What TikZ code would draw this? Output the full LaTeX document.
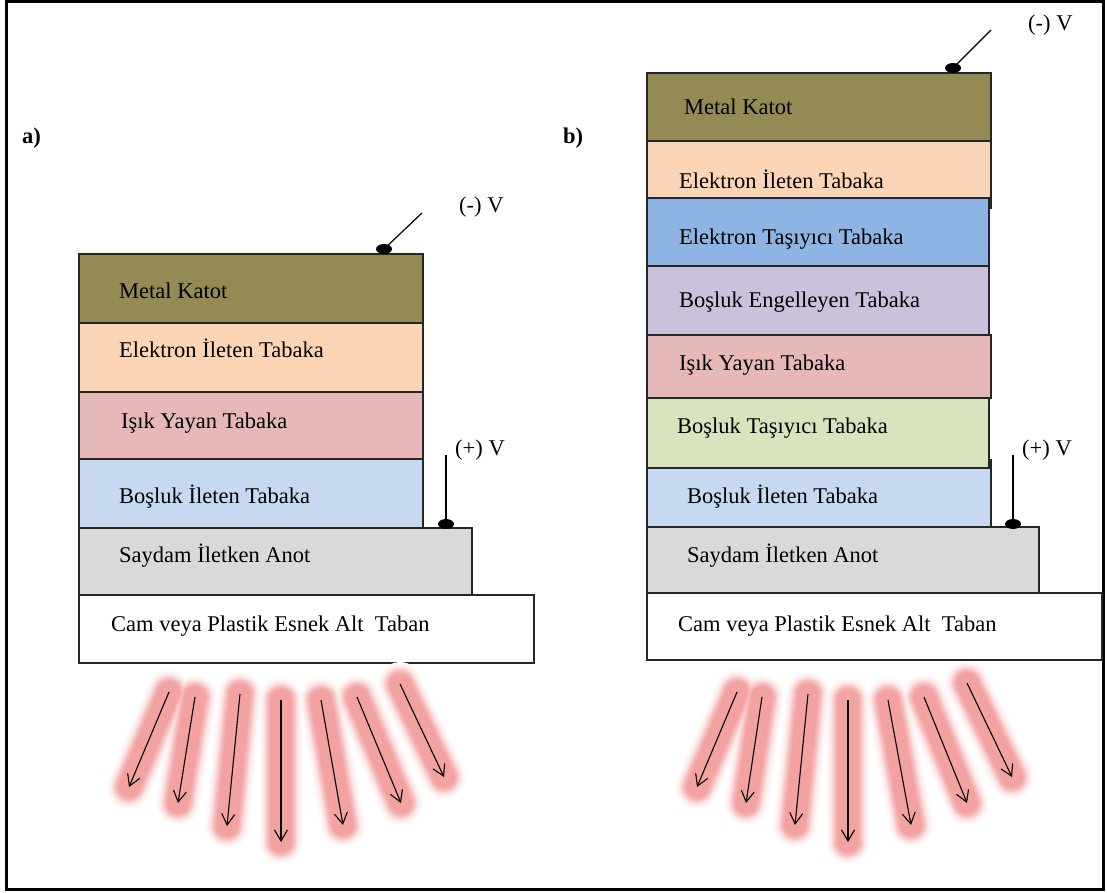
\documentclass[tikz,border=0pt]{standalone}
\usepackage{fontspec}
\setmainfont{Liberation Serif}
\usetikzlibrary{arrows.meta,shapes.geometric}
\definecolor{cKatot}{HTML}{948A54}
\definecolor{cPeach}{HTML}{FBD5B5}
\definecolor{cPink}{HTML}{E6B9B8}
\definecolor{cLBlue}{HTML}{C6D9F1}
\definecolor{cGray}{HTML}{D9D9D9}
\definecolor{cMBlue}{HTML}{8EB4E3}
\definecolor{cLav}{HTML}{CCC1DA}
\definecolor{cGreen}{HTML}{D7E4BD}
\definecolor{cGlow}{RGB}{232,70,70}
\tikzset{
  box/.style={draw=black!85, line width=1.3pt},
  lbl/.style={anchor=base west, inner sep=0pt, font=\fontsize{22.5}{27}\selectfont},
  dotn/.style={ellipse, fill=black, minimum width=16pt, minimum height=10pt, inner sep=0pt},
  lead/.style={line width=1.2pt, black},
  ray/.style={line width=1.1pt, black, -{Straight Barb[length=11pt,width=13pt,line width=1.1pt]}},
  glowline/.style={line cap=round},
}
\begin{document}
\begin{tikzpicture}[x=1pt,y=-1pt]
\useasboundingbox (0,0) rectangle (1107,892);
\fill[white] (0,0) rectangle (1107,892);
% frame
\draw[line width=3pt] (6.5,1) rectangle (1103.5,889);

% ---------------- panel a ----------------
\node[lbl, font=\fontsize{22.5}{27}\selectfont\bfseries] (la) at (22,143) {a)};
\draw[box, fill=cKatot] (79,254) rectangle (423,323);
\draw[box, fill=cPeach] (79,323) rectangle (423,392);
\draw[box, fill=cPink] (79,392) rectangle (423,459);
\draw[box, fill=cLBlue] (79,459) rectangle (423,528);
\draw[box, fill=cGray] (79,528) rectangle (472,595);
\draw[box, fill=white] (79,595) rectangle (534,663);
\node[lbl] (a1) at (119,298) {Metal Katot};
\node[lbl] (a2) at (119,357) {Elektron İleten Tabaka};
\node[lbl] (a3) at (121,428) {Işık Yayan Tabaka};
\node[lbl] (a4) at (119,503) {Boşluk İleten Tabaka};
\node[lbl] (a5) at (119,562) {Saydam İletken Anot};
\node[lbl] (a6) at (111,631) {Cam veya Plastik Esnek Alt\ \ Taban};
% leads a
\node[dotn] (dma) at (384,249) {};
\coordinate (tma) at (422,213);
\draw[lead] (dma.center) -- (tma);
\node[lbl] (vma) at (459,212) {(-) V};
\node[dotn] (dpa) at (446,524) {};
\coordinate (tpa) at (446,455);
\draw[lead] (dpa.center) -- (tpa);
\node[lbl] (vpa) at (455,455) {(+) V};

% ---------------- panel b ----------------
\node[lbl, font=\fontsize{22.5}{27}\selectfont\bfseries] (lb) at (563,143) {b)};
\draw[box, fill=cKatot] (647,73) rectangle (991,141);
\draw[box, fill=cPeach] (647,141) rectangle (991,208);
\draw[box, fill=cMBlue] (647,198) rectangle (989,266);
\draw[box, fill=cLav] (647,266) rectangle (989,335);
\draw[box, fill=cPink] (647,335) rectangle (991,398);
\draw[box, fill=cLBlue] (647,460) rectangle (991,528);
\draw[box, fill=cGreen] (647,398) rectangle (989,468);
\draw[box, fill=cGray] (647,527) rectangle (1039,593);
\draw[box, fill=white] (647,593) rectangle (1102,660);
\node[lbl] (b1) at (684,114) {Metal Katot};
\node[lbl] (b2) at (679,188) {Elektron İleten Tabaka};
\node[lbl] (b3) at (679,244) {Elektron Taşıyıcı Tabaka};
\node[lbl] (b4) at (679,307) {Boşluk Engelleyen Tabaka};
\node[lbl] (b5) at (679,370) {Işık Yayan Tabaka};
\node[lbl] (b6) at (677,433) {Boşluk Taşıyıcı Tabaka};
\node[lbl] (b7) at (687,503) {Boşluk İleten Tabaka};
\node[lbl] (b8) at (687,562) {Saydam İletken Anot};
\node[lbl] (b9) at (678,631) {Cam veya Plastik Esnek Alt\ \ Taban};
% leads b
\node[dotn] (dmb) at (953,68) {};
\coordinate (tmb) at (991,30);
\draw[lead] (dmb.center) -- (tmb);
\node[lbl] (vmb) at (1028,30) {(-) V};
\node[dotn] (dpb) at (1013,524) {};
\coordinate (tpb) at (1013,455);
\draw[lead] (dpb.center) -- (tpb);
\node[lbl] (vpb) at (1022,455) {(+) V};

% ---------------- light rays ----------------
\coordinate (ra1s) at (169,692); \coordinate (ra1e) at (129,787);
\coordinate (ra2s) at (195,697); \coordinate (ra2e) at (178,803);
\coordinate (ra3s) at (240,694); \coordinate (ra3e) at (227,826);
\coordinate (ra4s) at (281,700); \coordinate (ra4e) at (281,842);
\coordinate (ra5s) at (321,700); \coordinate (ra5e) at (343,825);
\coordinate (ra6s) at (357,697); \coordinate (ra6e) at (401,803);
\coordinate (ra7s) at (400,684); \coordinate (ra7e) at (444,777);
\coordinate (rb1s) at (737,692); \coordinate (rb1e) at (697,787);
\coordinate (rb2s) at (762,697); \coordinate (rb2e) at (746,803);
\coordinate (rb3s) at (808,694); \coordinate (rb3e) at (795,825);
\coordinate (rb4s) at (848,700); \coordinate (rb4e) at (848,842);
\coordinate (rb5s) at (888,700); \coordinate (rb5e) at (911,825);
\coordinate (rb6s) at (924,697); \coordinate (rb6e) at (967,803);
\coordinate (rb7s) at (967,683); \coordinate (rb7e) at (1012,777);
\foreach \w/\p in {44/2.5,42/4,40/6,38/9,36/12,34/16,32/22,30/28,28/34,26/39,24/44,22/48,20/50}{%
  \foreach \r in {ra1,ra2,ra3,ra4,ra5,ra6,ra7,rb1,rb2,rb3,rb4,rb5,rb6,rb7}{%
    \draw[glowline, line width=\w pt, color=cGlow!\p] (\r s) -- (\r e);}}
\foreach \r in {ra1,ra2,ra3,ra4,ra5,ra6,ra7,rb1,rb2,rb3,rb4,rb5,rb6,rb7}{%
  \draw[ray] (\r s) -- (\r e);}
\end{tikzpicture}
\end{document}
